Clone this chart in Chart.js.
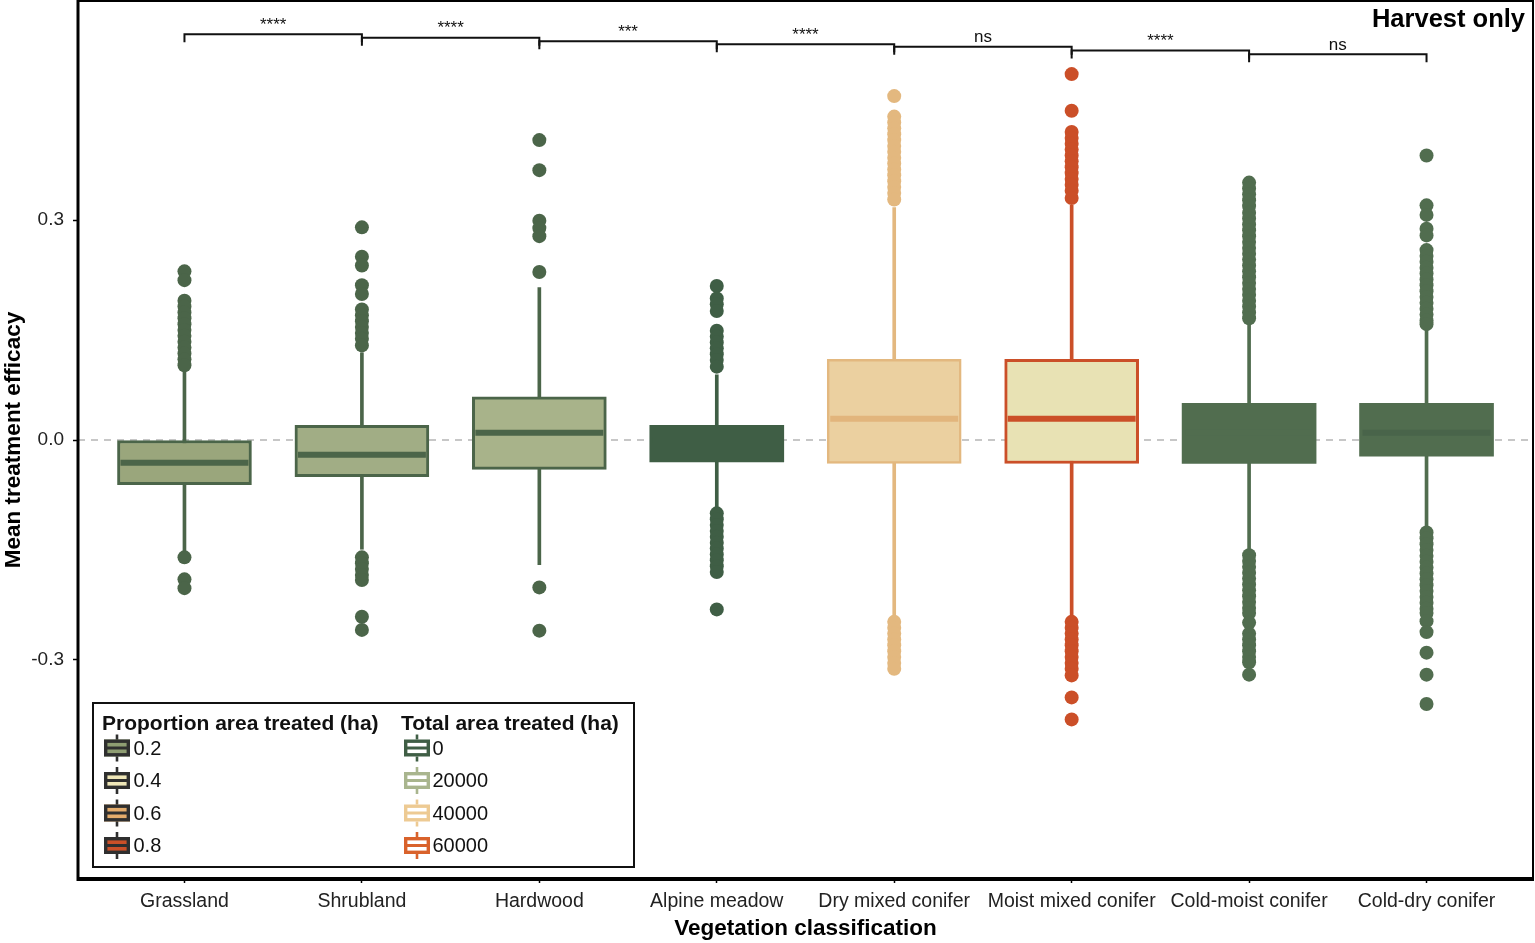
<!DOCTYPE html>
<html>
<head>
<meta charset="utf-8">
<script src="https://cdn.jsdelivr.net/npm/chart.js@4.4.0/dist/chart.umd.min.js"></script>
<style>
html,body{margin:0;padding:0;background:#fff;}
#wrap{position:relative;width:1535px;height:943px;}
</style>
</head>
<body>
<div id="wrap"><canvas id="c"></canvas></div>
<script>
// ---------------- DATA ----------------
const categories = ['Grassland','Shrubland','Hardwood','Alpine meadow','Dry mixed conifer','Moist mixed conifer','Cold-moist conifer','Cold-dry conifer'];
const whiskerLow  = [-0.151, -0.149, -0.170, -0.094, -0.242, -0.242, -0.152, -0.121];
const q1          = [-0.061, -0.050, -0.040, -0.030, -0.032, -0.032, -0.032, -0.022];
const medians     = [-0.031, -0.020,  0.010,  0.000,  0.029,  0.029,  0.010,  0.010];
const q3          = [ 0.000,  0.020,  0.059,  0.020,  0.110,  0.110,  0.050,  0.050];
const whiskerHigh = [ 0.095,  0.119,  0.208,  0.089,  0.317,  0.320,  0.161,  0.151];

const outliersGrassland = [0.230, 0.218, 0.190, 0.182, 0.174, 0.166, 0.158, 0.150, 0.142, 0.134, 0.126, 0.118, 0.110, 0.102, -0.160, -0.190, -0.202];
const outliersShrubland = [0.290, 0.250, 0.238, 0.211, 0.199, 0.178, 0.170, 0.162, 0.154, 0.146, 0.138, 0.129, -0.160, -0.168, -0.176, -0.184, -0.191, -0.241, -0.259];
const outliersHardwood = [0.409, 0.368, 0.299, 0.289, 0.278, 0.229, -0.201, -0.260];
const outliersAlpine = [0.210, 0.193, 0.185, 0.176, 0.149, 0.141, 0.133, 0.125, 0.117, 0.109, 0.100, -0.100, -0.108, -0.116, -0.124, -0.132, -0.140, -0.148, -0.156, -0.164, -0.172, -0.180, -0.231];
const outliersDry = [0.469, 0.441, 0.433, 0.425, 0.417, 0.409, 0.401, 0.393, 0.385, 0.377, 0.369, 0.361, 0.353, 0.345, 0.337, 0.328, -0.248, -0.256, -0.264, -0.272, -0.280, -0.288, -0.296, -0.304, -0.312];
const outliersMoist = [0.499, 0.449, 0.420, 0.412, 0.404, 0.396, 0.388, 0.380, 0.372, 0.364, 0.356, 0.348, 0.340, 0.330, -0.248, -0.256, -0.264, -0.272, -0.280, -0.288, -0.296, -0.304, -0.312, -0.321, -0.351, -0.381];
const outliersColdMoist = [0.351, 0.343, 0.335, 0.327, 0.319, 0.310, 0.302, 0.294, 0.286, 0.278, 0.270, 0.262, 0.254, 0.246, 0.238, 0.230, 0.222, 0.214, 0.206, 0.198, 0.190, 0.182, 0.174, 0.166, -0.157, -0.165, -0.173, -0.181, -0.189, -0.197, -0.205, -0.213, -0.221, -0.229, -0.236, -0.249, -0.264, -0.272, -0.280, -0.288, -0.296, -0.303, -0.320];
const outliersColdDry = [0.388, 0.320, 0.307, 0.288, 0.279, 0.259, 0.251, 0.243, 0.235, 0.227, 0.219, 0.211, 0.203, 0.195, 0.187, 0.179, 0.171, 0.163, 0.158, -0.126, -0.134, -0.142, -0.150, -0.158, -0.166, -0.174, -0.182, -0.190, -0.198, -0.206, -0.214, -0.222, -0.230, -0.236, -0.247, -0.262, -0.290, -0.320, -0.360];
const outliers = [outliersGrassland, outliersShrubland, outliersHardwood, outliersAlpine, outliersDry, outliersMoist, outliersColdMoist, outliersColdDry];

const bracketLabels = ['****','****','***','****','ns','****','ns'];
const bracketY = [0.5533, 0.5487, 0.5438, 0.5397, 0.5364, 0.5310, 0.5261];

const yTicks = [-0.3, 0.0, 0.3];
const propTitle = 'Proportion area treated (ha)';
const propLabels = ['0.2','0.4','0.6','0.8'];
const totalTitle = 'Total area treated (ha)';
const totalLabels = ['0','20000','40000','60000'];

// ---------------- STYLES ----------------
const fillColors   = ['#9AA67C','#A1AD85','#A8B38A','#3F5E45','#EBD0A0','#E8E2B4','#516D4F','#516D4F'];
const lineColors   = ['#4B6549','#4B6549','#4B6549','#3F5E45','#E3B87F','#CB4F28','#516D4F','#516D4F'];
const medianColors = ['#4B6549','#4B6549','#4B6549','#3F5E45','#E2B57C','#CB4F28','#516D4F','#49644A'];
const boxBorder    = [3,3,3,0,2.5,3,0,0];
const propColors   = ['#8E9D72','#EFE7B8','#E4AC6C','#CC5028'];
const totalColors  = ['#3F5E45','#A9B58E','#EDCA93','#D9622B'];
const FONT = "'Liberation Sans', Arial, Helvetica, sans-serif";

Chart.defaults.font.family = FONT;
Chart.defaults.color = '#1a1a1a';

const outlierPoints = [];
const outlierColors = [];
outliers.forEach((arr, i) => arr.forEach(v => { outlierPoints.push({x: i + 1, y: v}); outlierColors.push(lineColors[i]); }));

const decor = {
  id: 'decor',
  beforeDraw(chart) {
    const c = chart.ctx;
    c.save(); c.fillStyle = '#fff'; c.fillRect(0, 0, chart.width, chart.height); c.restore();
  },
  afterDatasetsDraw(chart) {
    const c = chart.ctx, xs = chart.scales.x, ys = chart.scales.y, a = chart.chartArea;
    c.save();
    // significance brackets
    c.strokeStyle = '#111'; c.lineWidth = 2; c.fillStyle = '#111';
    c.font = '17px ' + FONT; c.textAlign = 'center'; c.textBaseline = 'alphabetic';
    bracketLabels.forEach((lab, i) => {
      const x1 = xs.getPixelForValue(i + 1), x2 = xs.getPixelForValue(i + 2), y = ys.getPixelForValue(bracketY[i]);
      c.beginPath(); c.moveTo(x1, y + 8); c.lineTo(x1, y); c.lineTo(x2, y); c.lineTo(x2, y + 8); c.stroke();
      c.fillText(lab, (x1 + x2) / 2, y - 4.5);
    });
    // panel label
    c.font = 'bold 25.5px ' + FONT; c.textAlign = 'right'; c.fillStyle = '#000';
    c.fillText('Harvest only', a.right - 8, 27);
    // frame
    c.strokeStyle = '#000';
    c.lineWidth = 2; c.strokeRect(a.left, a.top - 1, a.right - a.left, a.bottom - a.top + 1);
    c.lineWidth = 3;
    c.beginPath(); c.moveTo(a.left, a.top - 2); c.lineTo(a.left, a.bottom + 1.5); c.lineTo(a.right + 1, a.bottom + 1.5); c.stroke();
    // legend
    const L = 93, T = 703, W = 541, H = 164;
    c.fillStyle = '#fff'; c.fillRect(L, T, W, H);
    c.lineWidth = 2; c.strokeStyle = '#111'; c.strokeRect(L, T, W, H);
    c.fillStyle = '#111'; c.textAlign = 'left'; c.textBaseline = 'alphabetic';
    c.font = 'bold 21px ' + FONT;
    c.fillText(propTitle, L + 9, T + 27);
    c.fillText(totalTitle, L + 308, T + 27);
    const rowY = [748, 780.5, 813, 845.5];
    const icon = (x, yc, fill, stroke) => {
      const lw = 3.4, h = lw / 2;
      c.lineWidth = 2.6; c.strokeStyle = stroke;
      c.beginPath(); c.moveTo(x + 13, yc - 13.5); c.lineTo(x + 13, yc + 13.5); c.stroke();
      c.fillStyle = fill; c.fillRect(x, yc - 8.5, 26, 17);
      c.lineWidth = lw;
      c.strokeRect(x + h, yc - 8.5 + h, 26 - lw, 17 - lw);
      c.lineWidth = 3;
      c.beginPath(); c.moveTo(x, yc); c.lineTo(x + 26, yc); c.stroke();
    };
    c.font = '20px ' + FONT; c.textBaseline = 'middle';
    propLabels.forEach((lab, i) => {
      icon(104, rowY[i], propColors[i], '#2f2f2f');
      c.fillStyle = '#111'; c.fillText(lab, 133.5, rowY[i] + 1);
    });
    totalLabels.forEach((lab, i) => {
      icon(404, rowY[i], '#fff', totalColors[i]);
      c.fillStyle = '#111'; c.fillText(lab, 432.5, rowY[i] + 1);
    });
    c.restore();
  }
};

new Chart(document.getElementById('c'), {
  type: 'bar',
  data: {
    datasets: [
      {
        type: 'line', data: [{x: 0.4, y: 0}, {x: 8.6, y: 0}],
        borderColor: '#b5b5b5', borderWidth: 1.5, borderDash: [7, 6], pointRadius: 0, order: 10
      },
      {
        type: 'bar', grouped: false, order: 9,
        data: categories.map((c, i) => ({x: i + 1, y: [whiskerLow[i], whiskerHigh[i]]})),
        backgroundColor: lineColors, borderWidth: 0, barThickness: 3
      },
      {
        type: 'bar', grouped: false, order: 8,
        data: categories.map((c, i) => ({x: i + 1, y: [q1[i], q3[i]]})),
        backgroundColor: fillColors, borderColor: lineColors, borderWidth: boxBorder,
        borderSkipped: false, barThickness: 134
      },
      {
        type: 'scatter', order: 7,
        data: categories.map((c, i) => ({x: i + 1, y: medians[i]})),
        pointStyle: 'line', pointRadius: 64, pointBorderWidth: 6, pointBorderColor: medianColors
      },
      {
        type: 'scatter', order: 6,
        data: outlierPoints,
        pointStyle: 'circle', pointRadius: 7, pointBorderWidth: 0, pointBackgroundColor: outlierColors
      }
    ]
  },
  options: {
    responsive: true, maintainAspectRatio: false, animation: false, events: [],
    layout: {autoPadding: false, padding: {top: 2, right: 2, left: 0, bottom: 0}},
    plugins: {legend: {display: false}, tooltip: {enabled: false}},
    scales: {
      x: {
        type: 'linear', min: 0.4, max: 8.6, offset: false,
        afterBuildTicks: s => { s.ticks = categories.map((c, i) => ({value: i + 1})); },
        afterFit: s => { s.height = 65; s.paddingLeft = 0; s.paddingRight = 0; },
        ticks: {callback: v => categories[Math.round(v) - 1], autoSkip: false, maxRotation: 0, font: {size: 19.5}, color: '#222', padding: 7},
        grid: {offset: false, drawOnChartArea: false, tickLength: 5, tickColor: '#000', tickWidth: 1.5},
        border: {display: false},
        title: {display: true, text: 'Vegetation classification', font: {size: 22.5, weight: 'bold'}, color: '#000', padding: {top: 0, bottom: 1}}
      },
      y: {
        type: 'linear', min: -0.5973, max: 0.5973,
        afterBuildTicks: s => { s.ticks = yTicks.map(v => ({value: v})); },
        afterFit: s => { s.width = 78; s.paddingTop = 0; s.paddingBottom = 0; },
        ticks: {callback: v => v.toFixed(1), font: {size: 19}, color: '#222', padding: 9},
        grid: {drawOnChartArea: false, tickLength: 5, tickColor: '#000', tickWidth: 1.5},
        border: {display: false},
        title: {display: true, text: 'Mean treatment efficacy', font: {size: 22.5, weight: 'bold'}, color: '#000', padding: 0}
      }
    }
  },
  plugins: [decor]
});
</script>
</body>
</html>
